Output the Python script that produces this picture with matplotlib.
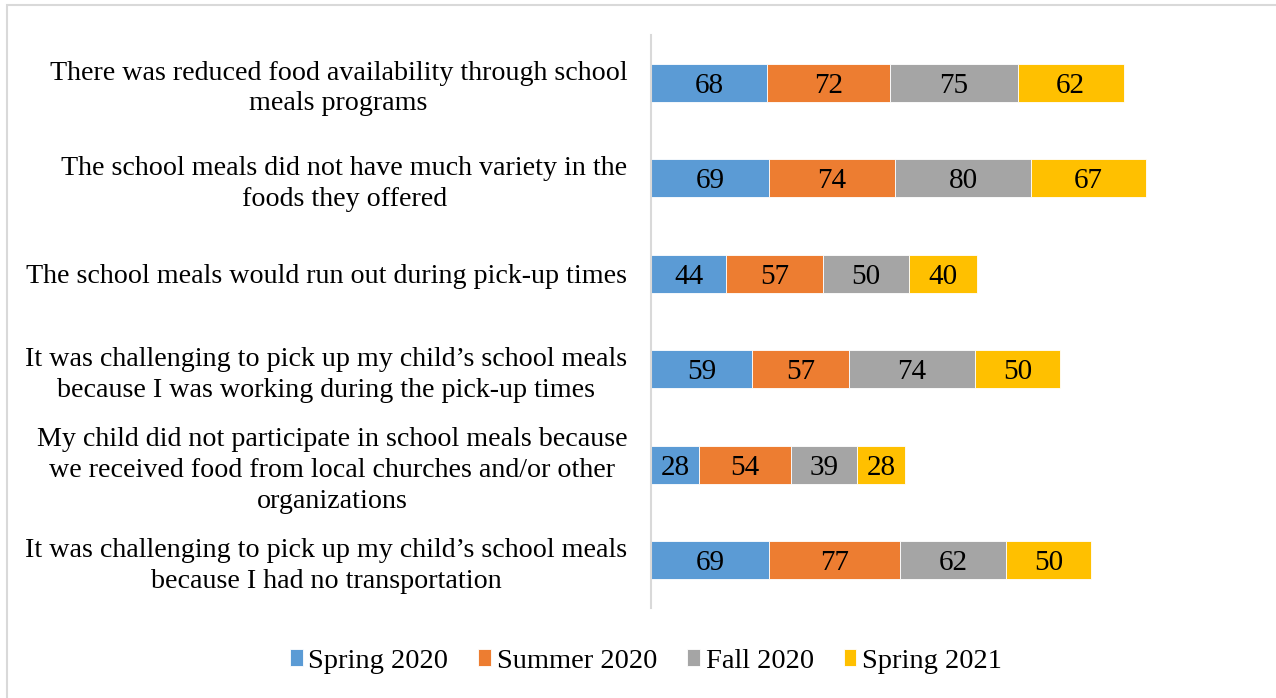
import matplotlib.pyplot as plt
from matplotlib.patches import Rectangle

plt.rcParams['font.family'] = ['Liberation Serif', 'DejaVu Serif']

# Survey statements (top to bottom) and percentages per survey wave
statements = [
    "There was reduced food availability through school\nmeals programs",
    "The school meals did not have much variety in the\nfoods they offered",
    "The school meals would run out during pick-up times",
    "It was challenging to pick up my child\u2019s school meals\nbecause I was working during the pick-up times",
    "My child did not participate in school meals because\nwe received food from local churches and/or other\norganizations",
    "It was challenging to pick up my child\u2019s school meals\nbecause I had no transportation",
]
waves = ["Spring 2020", "Summer 2020", "Fall 2020", "Spring 2021"]
spring_2020 = [68, 69, 44, 59, 28, 69]
summer_2020 = [72, 74, 57, 57, 54, 77]
fall_2020 = [75, 80, 50, 74, 39, 62]
spring_2021 = [62, 67, 40, 50, 28, 50]

colors = ["#5b9bd5", "#ed7d31", "#a5a5a5", "#ffc000"]

fig = plt.figure(figsize=(12.76, 6.98), dpi=100)
ax = fig.add_axes([651 / 1276, 1 - 608 / 698, (1255 - 651) / 1276, (608 - 35) / 698])

ypos = list(range(len(statements)))[::-1]
left = [0] * len(statements)
for name, vals, c in zip(waves, [spring_2020, summer_2020, fall_2020, spring_2021], colors):
    bars = ax.barh(ypos, vals, left=left, height=0.4, color=c,
                   edgecolor="white", linewidth=0.6, label=name)
    texts = ax.bar_label(bars, labels=[str(v) for v in vals], label_type="center",
                         fontsize=21, color="black")
    for t in texts:
        t.set_verticalalignment("center_baseline")
    left = [l + v for l, v in zip(left, vals)]

ax.set_xlim(0, 354)
ax.set_ylim(-0.5, 5.5)
ax.set_yticks(ypos)
ax.set_yticklabels(statements, fontsize=20.2, multialignment="center", linespacing=1.3)
ax.tick_params(axis="y", length=0, pad=17)
ax.set_xticks([])
for side in ["top", "right", "bottom"]:
    ax.spines[side].set_visible(False)
ax.spines["left"].set_color("#d9d9d9")
ax.spines["left"].set_linewidth(1.5)

fig.legend(loc="center", bbox_to_anchor=(646 / 1276, 1 - 661 / 698), ncol=4,
           frameon=False, fontsize=20.5, handlelength=0.45, handleheight=0.5,
           handletextpad=0.2, columnspacing=1.05)

# light frame around the chart area
fig.patches.append(Rectangle((7 / 1276, -0.1), 1.0, 1.1 - 5 / 698, transform=fig.transFigure,
                             fill=False, edgecolor="#d9d9d9", linewidth=1.5))

fig.savefig("out.png", dpi=100)
